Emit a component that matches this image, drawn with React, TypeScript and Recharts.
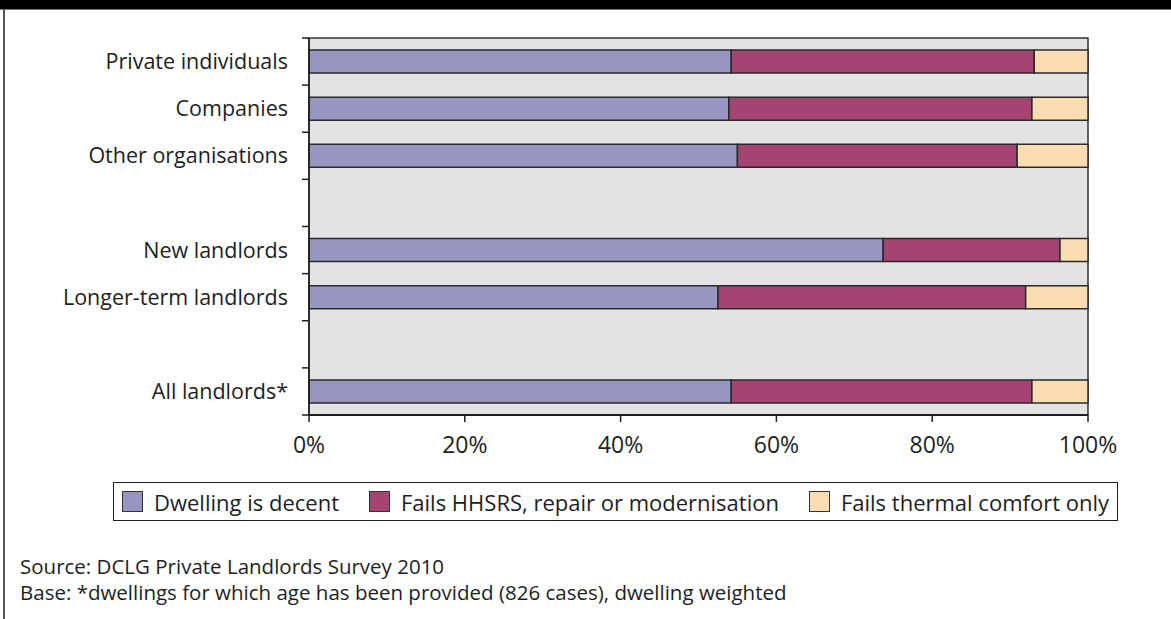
import {
  BarChart,
  Bar,
  XAxis,
  YAxis,
  CartesianGrid,
  ReferenceArea,
} from "recharts";

// Landlord groups, top to bottom (blank rows separate the groups)
const categories = [
  "Private individuals",
  "Companies",
  "Other organisations",
  "",
  "New landlords",
  "Longer-term landlords",
  "",
  "All landlords*",
];

// Share of dwellings (%)
const decent = [54.2, 53.9, 55.0, null, 73.7, 52.5, null, 54.2];
const failsHhsrs = [38.9, 38.9, 35.9, null, 22.7, 39.5, null, 38.6];
const failsThermal = [6.9, 7.2, 9.1, null, 3.6, 8.0, null, 7.2];

const xTicks = [0, 20, 40, 60, 80, 100];

const series = [
  { key: "decent", label: "Dwelling is decent", color: "#9696c1" },
  { key: "hhsrs", label: "Fails HHSRS, repair or modernisation", color: "#a54372" },
  { key: "thermal", label: "Fails thermal comfort only", color: "#f9dcb0" },
];

const FONT = "'Open Sans', 'Noto Sans', sans-serif";
const INK = "#1e1e1e";

const CHART_H = 470;
const TOP = 38;
const X_AXIS_H = 55;
const Y_AXIS_W = 309;
const TICK_GAP = 21;
// height of one category band, so the y ticks can sit on the band edges
const BAND = (CHART_H - TOP - X_AXIS_H) / categories.length;

const data = categories.map((name, i) => ({
  name: name || " ".repeat(i),
  decent: decent[i],
  hhsrs: failsHhsrs[i],
  thermal: failsThermal[i],
}));

const CategoryTick = (props: any) => {
  const { x, y, payload, index } = props;
  const ax = x + TICK_GAP;
  const half = BAND / 2;
  return (
    <g>
      <line x1={ax - 7} x2={ax} y1={y - half} y2={y - half} stroke={INK} strokeWidth={1.5} />
      {index === categories.length - 1 && (
        <line x1={ax - 7} x2={ax} y1={y + half} y2={y + half} stroke={INK} strokeWidth={1.5} />
      )}
      <text x={x} y={y} dy="0.355em" textAnchor="end" fill={INK} fontSize={21.5} fontFamily={FONT}>
        {String(payload.value).trim()}
      </text>
    </g>
  );
};

export default function App() {
  return (
    <div
      style={{
        position: "absolute",
        left: 0,
        top: 0,
        width: 1171,
        height: 619,
        background: "#fff",
        fontFamily: FONT,
        color: INK,
        overflow: "hidden",
      }}
    >
      {/* header band and left rule */}
      <div style={{ position: "absolute", left: 0, top: 0, width: 1171, height: 9, background: "#000" }} />
      <div style={{ position: "absolute", left: 0, top: 9, width: 1171, height: 1, background: "#777" }} />
      <div style={{ position: "absolute", left: 3, top: 9, width: 2, height: 610, background: "#555" }} />

      <div style={{ position: "absolute", left: 0, top: 0 }}>
        <BarChart
          width={1171}
          height={CHART_H}
          data={data}
          layout="vertical"
          barSize={23}
          margin={{ top: TOP, right: 83, left: 0, bottom: 0 }}
        >
          <CartesianGrid fill="#e3e3e3" horizontal={false} vertical={false} />
          <XAxis
            type="number"
            domain={[0, 100]}
            ticks={xTicks}
            tickFormatter={(v) => `${v}%`}
            height={X_AXIS_H}
            tickSize={7}
            tickMargin={15}
            axisLine={{ stroke: INK, strokeWidth: 2 }}
            tickLine={{ stroke: INK, strokeWidth: 1.5 }}
            tick={{ fill: INK, fontSize: 23, fontFamily: FONT }}
          />
          <YAxis
            type="category"
            dataKey="name"
            width={Y_AXIS_W}
            interval={0}
            tickSize={0}
            tickMargin={TICK_GAP}
            tickLine={false}
            axisLine={{ stroke: INK, strokeWidth: 1.5 }}
            tick={<CategoryTick />}
          />
          {series.map((s) => (
            <Bar
              key={s.key}
              dataKey={s.key}
              name={s.label}
              stackId="a"
              fill={s.color}
              stroke="#2a2a2a"
              strokeWidth={1.5}
              isAnimationActive={false}
            />
          ))}
          <ReferenceArea x1={0} x2={100} fill="none" stroke="#333" strokeWidth={1.5} />
        </BarChart>
      </div>

      {/* legend */}
      <div
        style={{
          position: "absolute",
          left: 113,
          top: 482,
          width: 1005,
          height: 39,
          boxSizing: "border-box",
          border: `1px solid ${INK}`,
          display: "flex",
          alignItems: "center",
          justifyContent: "center",
          fontSize: 22,
          whiteSpace: "nowrap",
        }}
      >
        {series.map((s, i) => (
          <div key={s.key} style={{ display: "flex", alignItems: "center", marginLeft: i ? 30 : 0 }}>
            <span
              style={{
                width: 19,
                height: 19,
                background: s.color,
                border: "1.5px solid #333",
                marginRight: 11,
              }}
            />
            <span>{s.label}</span>
          </div>
        ))}
      </div>

      {/* notes */}
      <div style={{ position: "absolute", left: 20, top: 554, fontSize: 20.5, lineHeight: "25.5px" }}>
        <div>Source: DCLG Private Landlords Survey 2010</div>
        <div>Base: *dwellings for which age has been provided (826 cases), dwelling weighted</div>
      </div>
    </div>
  );
}
